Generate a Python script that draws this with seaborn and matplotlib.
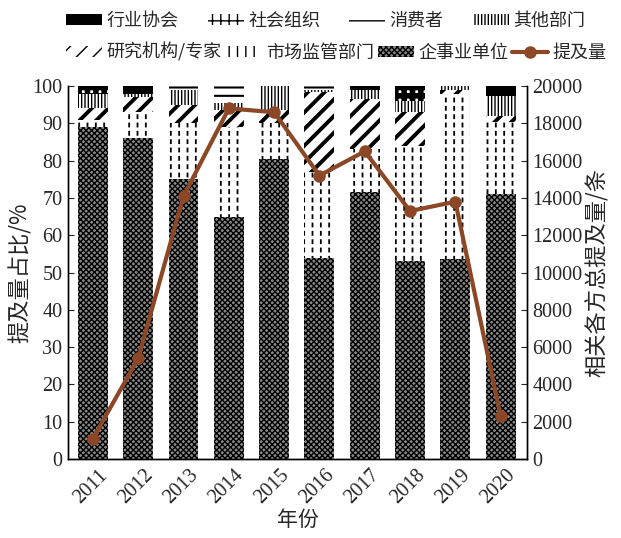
import numpy as np
import matplotlib
matplotlib.use("Agg")
import matplotlib.pyplot as plt
import matplotlib.transforms as mtransforms
import seaborn as sns

years = ['2011', '2012', '2013', '2014', '2015', '2016', '2017', '2018', '2019', '2020']
# share of mentions (%), bottom -> top
qishiye = [89, 86, 75, 65, 80.5, 54, 71.5, 53, 53.5, 71]
shichang = [2, 7, 15, 24, 9.5, 23, 11.5, 31, 44.5, 19.5]
yanjiu = [3, 4, 5, 4.5, 3.5, 21.5, 13.5, 9, 1, 1.5]
qita = [4, 1, 4, 2, 6.5, 0.5, 2.5, 3, 1, 5.3]
xiaofei = [0, 0, 1, 4.5, 0, 1, 0, 0, 0, 0]
shehui = [2, 0, 0, 0, 0, 0, 0, 4, 0, 0]
hangye = [0, 2, 0, 0, 0, 0, 1, 0, 0, 2.7]
# total mentions
total = [1100, 5400, 14100, 18800, 18600, 15200, 16500, 13300, 13800, 2300]

sns.set_style("ticks")
plt.rcParams['font.family'] = ['Liberation Serif', 'Noto Sans CJK SC']
cjk = ['Noto Sans CJK SC', 'DejaVu Sans']

fig = plt.figure(figsize=(6.21, 5.38), dpi=100)
ax = fig.add_axes([0.1095, 0.1468, 0.739, 0.6932])
ax2 = ax.twinx()

x = np.arange(len(years))
layers = [
    (qishiye, '企事业单位', 'xxxxxx', '#8a8a8a', 1.0),
    (shichang, '市场监管部门', '||', 'white', 1.3),
    (yanjiu, '研究机构/专家', '//', 'white', 2.8),
    (qita, '其他部门', '|||||', 'white', 1.0),
    (xiaofei, '消费者', '--', 'white', 1.5),
    (shehui, '社会组织', '++', 'white', 4.0),
    (hangye, '行业协会', None, 'black', 1.0),
]
bottom = np.zeros(len(years))
handles = {}
for vals, name, hatch, fc, hlw in layers:
    plt.rcParams['hatch.linewidth'] = hlw
    bars = ax.bar(x, vals, width=0.66, bottom=bottom, facecolor=fc, edgecolor='black',
                  hatch=hatch, linewidth=0, label=name)
    handles[name] = bars
    if name == '市场监管部门':
        # white horizontal hatch on top to break vertical lines into dashes
        plt.rcParams['hatch.linewidth'] = 2.5
        ax.bar(x, vals, width=0.66, bottom=bottom, facecolor='none', edgecolor='white',
               hatch='--', linewidth=0)
    bottom += np.array(vals)

sns.lineplot(x=x, y=total, ax=ax2, color='#8B4726', linewidth=3,
             marker='o', markersize=9, markeredgewidth=0, label='提及量', legend=False)
line = ax2.get_lines()[0]

ax.set_xlim(-0.55, 9.58)
ax.set_ylim(0, 100)
ax2.set_ylim(0, 20000)
ax.set_yticks(range(0, 101, 10))
ax2.set_yticks(range(0, 20001, 2000))
ax.set_xticks(x)
ax.tick_params(axis='y', direction='in', labelsize=14.5, length=4, pad=4)
ax.tick_params(axis='x', length=0, pad=6)
ax2.tick_params(axis='y', direction='in', labelsize=14.5, length=4, pad=4)
ax.set_xticklabels(years, rotation=45, ha='right', va='center', rotation_mode='anchor', fontsize=14.5)
offset = mtransforms.ScaledTranslation(0.12, -0.05, fig.dpi_scale_trans)
for lab in ax.get_xticklabels():
    lab.set_transform(lab.get_transform() + offset)

for a in (ax, ax2):
    a.spines['top'].set_visible(False)
    for s in ['left', 'right', 'bottom']:
        a.spines[s].set_linewidth(1.0)
        a.spines[s].set_color('black')

ax.set_ylabel('提及量占比/%', fontsize=16, family=cjk, labelpad=0)
ax2.set_ylabel('相关各方总提及量/条', fontsize=16, family=cjk, labelpad=2)
ax.set_xlabel('年份', fontsize=15, family=cjk, labelpad=1)

leg_kw = dict(frameon=False, prop={'family': cjk, 'size': 13}, handlelength=2.0,
              handleheight=0.55, handletextpad=0.25, borderaxespad=0, borderpad=0)
row1 = ['行业协会', '社会组织', '消费者', '其他部门']
fig.legend([handles[n] for n in row1], row1, ncol=4, loc='center left',
           bbox_to_anchor=(66 / 621, 1 - 21 / 538), columnspacing=1.6, **leg_kw)
row2 = ['研究机构/专家', '市场监管部门', '企事业单位']
fig.legend([handles[n] for n in row2] + [line], row2 + ['提及量'], ncol=4, loc='center left',
           bbox_to_anchor=(66 / 621, 1 - 52 / 538), columnspacing=0.2, **leg_kw)

fig.savefig('out.png', dpi=100)
